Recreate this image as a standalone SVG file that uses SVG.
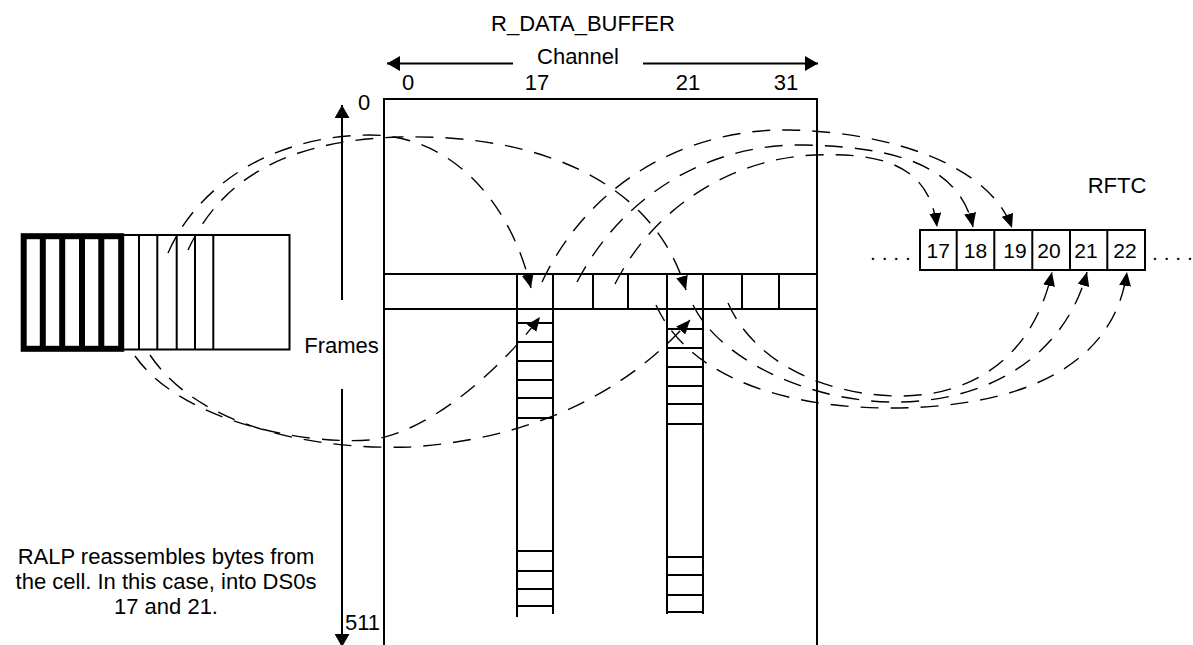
<svg xmlns="http://www.w3.org/2000/svg" width="1193" height="645" viewBox="0 0 1193 645">
<style>
.s{stroke:#000;stroke-width:2;fill:none}
.k{stroke:#000;stroke-width:6;fill:none}
.d{stroke:#000;stroke-width:1.4;fill:none;stroke-dasharray:18 12}
text{font-family:"Liberation Sans",Arial,sans-serif;font-size:22px;fill:#000}
.m{text-anchor:middle}
.b{font-size:21px}
</style>
<defs>
<marker id="ah" viewBox="0 0 14 12" refX="14" refY="6" markerWidth="14" markerHeight="12" markerUnits="userSpaceOnUse" orient="auto"><path d="M0,0L14,6L0,12z" fill="#000"/></marker>
<marker id="ax" viewBox="0 0 13 15" refX="13" refY="7.5" markerWidth="13" markerHeight="15" markerUnits="userSpaceOnUse" orient="auto"><path d="M0,0L13,7.5L0,15z" fill="#000"/></marker>
</defs>
<rect width="1193" height="645" fill="#fff"/>
<g id="title"><text class="m" x="583" y="31">R_DATA_BUFFER</text></g>
<g id="channel-axis">
<line class="s" x1="513" y1="63.5" x2="387" y2="63.5" marker-end="url(#ax)"/>
<line class="s" x1="643" y1="63.5" x2="818" y2="63.5" marker-end="url(#ax)"/>
<text class="m" x="578" y="64">Channel</text>
<text class="m" x="408" y="90">0</text>
<text class="m" x="537" y="90">17</text>
<text class="m" x="688" y="90">21</text>
<text class="m" x="786" y="90">31</text>
</g>
<g id="frames-axis">
<line class="s" x1="342" y1="300" x2="342" y2="105" marker-end="url(#ax)"/>
<line class="s" x1="342" y1="389" x2="342" y2="647" marker-end="url(#ax)"/>
<text x="358" y="110">0</text>
<text class="m" x="341.5" y="353">Frames</text>
<text x="345" y="630">511</text>
</g>
<g id="buffer">
<path class="s" d="M384,650V99H817V650"/>
<path class="s" d="M384,274H817M384,309H817"/>
<path class="s" d="M593,274V309M628,274V309M742,274V309M779,274V309"/>
<path class="s" d="M517,274V617M553,274V614M667,274V614M703,274V614"/>
<path class="s" d="M517,323H553M517,342H553M517,361H553M517,380H553M517,398H553M517,418H553M517,551H553M517,571H553M517,589H553M517,606H553"/>
<path class="s" d="M667,329H703M667,348H703M667,367H703M667,386H703M667,404H703M667,424H703M667,557H703M667,575H703M667,595H703M667,612H703"/>
</g>
<g id="cell">
<path class="s" d="M121,235H289.5V349.5H121M139,235V349.5M157.3,235V349.5M176.7,235V349.5M195,235V349.5M213.3,235V349.5"/>
<rect class="k" x="23.7" y="236.2" width="97.5" height="112.6"/>
<path class="k" d="M42.8,236V349M62.2,236V349M82,236V349M101.3,236V349"/>
</g>
<g id="rftc">
<text class="m" x="1117" y="193">RFTC</text>
<rect class="s" x="920" y="230" width="225" height="40"/>
<path class="s" d="M956.7,230V270M994.3,230V270M1032.3,230V270M1070,230V270M1107.3,230V270"/>
<text class="m b" x="938.3" y="258">17</text>
<text class="m b" x="975.5" y="258">18</text>
<text class="m b" x="1015" y="258">19</text>
<text class="m b" x="1049" y="258">20</text>
<text class="m b" x="1086" y="258">21</text>
<text class="m b" x="1125" y="258">22</text>
<text class="b" x="870" y="260">. . . .</text>
<text class="b" x="1152" y="260">. . . .</text>
</g>
<g id="note">
<text class="m" x="166" y="564">RALP reassembles bytes from</text>
<text class="m" x="166" y="589">the cell. In this case, into DS0s</text>
<text class="m" x="166" y="614">17 and 21.</text>
</g>
<g id="connectors">
<path class="d" d="M168,253C200,180 280,135 370,135C450,135 510,200 531,288" marker-end="url(#ah)"/>
<path class="d" d="M188,250C225,170 300,140 400,137C520,134 650,170 686,290" marker-end="url(#ah)"/>
<path class="d" d="M135,356C180,420 300,445 370,440C430,432 500,370 540,317" marker-end="url(#ah)"/>
<path class="d" d="M150,355C200,430 320,450 410,447C520,440 620,400 690,320" marker-end="url(#ah)"/>
<path class="d" d="M542,282C590,180 690,128 790,130C890,132 990,165 1012,228" marker-end="url(#ah)"/>
<path class="d" d="M577,282C625,190 715,143 805,145C895,147 960,165 973,227" marker-end="url(#ah)"/>
<path class="d" d="M615,284C655,205 735,158 815,155C890,152 930,170 937,227" marker-end="url(#ah)"/>
<path class="d" d="M656,305C690,380 790,408 890,408C1000,408 1112,378 1127,272" marker-end="url(#ah)"/>
<path class="d" d="M693,305C720,360 810,402 895,402C990,402 1065,355 1087,272" marker-end="url(#ah)"/>
<path class="d" d="M728,303C755,365 830,396 900,396C980,396 1035,350 1052,272" marker-end="url(#ah)"/>
</g>
</svg>
